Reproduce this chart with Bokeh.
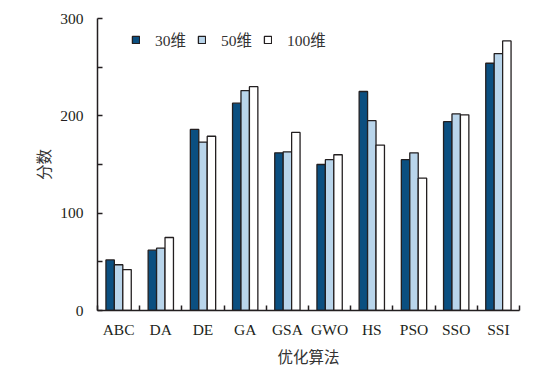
from bokeh.plotting import figure
from bokeh.models import Range1d, FixedTicker, Legend, LegendItem
from bokeh.embed import file_html
from bokeh.resources import INLINE

categories = ["ABC", "DA", "DE", "GA", "GSA", "GWO", "HS", "PSO", "SSO", "SSI"]
series_names = ["30维", "50维", "100维"]
dim30 = [52, 62, 186, 213, 162, 150, 225, 155, 194, 254]
dim50 = [47, 64, 173, 226, 163, 155, 195, 162, 202, 264]
dim100 = [42, 75, 179, 230, 183, 160, 170, 136, 201, 277]
y_ticks = [0, 100, 200, 300]
y_minor = [50, 150, 250]

colors = ["#0b4f80", "#b9d5eb", "#ffffff"]
edge = "#231f20"
FONT = "Liberation Serif, Noto Sans CJK SC"
FS = "15.5px"

p = figure(width=546, height=365, output_backend="svg", toolbar_location=None,
           x_range=Range1d(0, len(categories)), y_range=Range1d(0, 300),
           frame_width=422, frame_height=292,
           min_border_left=97, min_border_top=18, min_border_right=27, min_border_bottom=55)

centers = [i + 0.5 for i in range(len(categories))]
bar_w = 0.2
items = []
for k, (name, vals) in enumerate(zip(series_names, [dim30, dim50, dim100])):
    xs = [c + (k - 1) * bar_w for c in centers]
    r = p.vbar(x=xs, top=vals, width=bar_w, bottom=0, fill_color=colors[k],
               line_color=edge, line_width=1.3)
    items.append(LegendItem(label=name, renderers=[r]))

p.xgrid.visible = False
p.ygrid.visible = False
p.outline_line_color = None
p.background_fill_color = "white"
p.border_fill_color = "white"

# x axis
xa = p.xaxis[0]
xa.ticker = FixedTicker(ticks=centers, minor_ticks=list(range(len(categories) + 1)))
xa.major_label_overrides = {c: cat for c, cat in zip(centers, categories)}
xa.major_tick_in = 0
xa.major_tick_out = 0
xa.minor_tick_in = 5
xa.minor_tick_out = 0
xa.axis_label = "优化算法"

# y axis
ya = p.yaxis[0]
ya.ticker = FixedTicker(ticks=y_ticks, minor_ticks=y_minor)
ya.major_tick_in = 5
ya.major_tick_out = 0
ya.minor_tick_in = 5
ya.minor_tick_out = 0
ya.axis_label = "分数"

for ax in (xa, ya):
    ax.axis_line_color = edge
    ax.axis_line_width = 1.5
    ax.major_tick_line_color = edge
    ax.major_tick_line_width = 1.5
    ax.minor_tick_line_color = edge
    ax.minor_tick_line_width = 1.5
    ax.major_label_text_font = FONT
    ax.major_label_text_font_size = FS
    ax.major_label_text_color = edge
    ax.axis_label_text_font = FONT
    ax.axis_label_text_font_size = FS
    ax.axis_label_text_font_style = "normal"
    ax.axis_label_text_color = "#333333"

xa.major_label_standoff = 10
xa.axis_label_standoff = 8
ya.major_label_standoff = 14
ya.axis_label_standoff = 4

legend = Legend(items=items, orientation="horizontal", location=(34, 260),
                glyph_width=9, glyph_height=9, label_standoff=15, spacing=11,
                padding=0, margin=0, border_line_color=None,
                background_fill_alpha=0,
                label_text_font=FONT, label_text_font_size=FS,
                label_text_color="#333333")
p.add_layout(legend, "center")

open("out.html", "w").write(file_html(p, INLINE))
